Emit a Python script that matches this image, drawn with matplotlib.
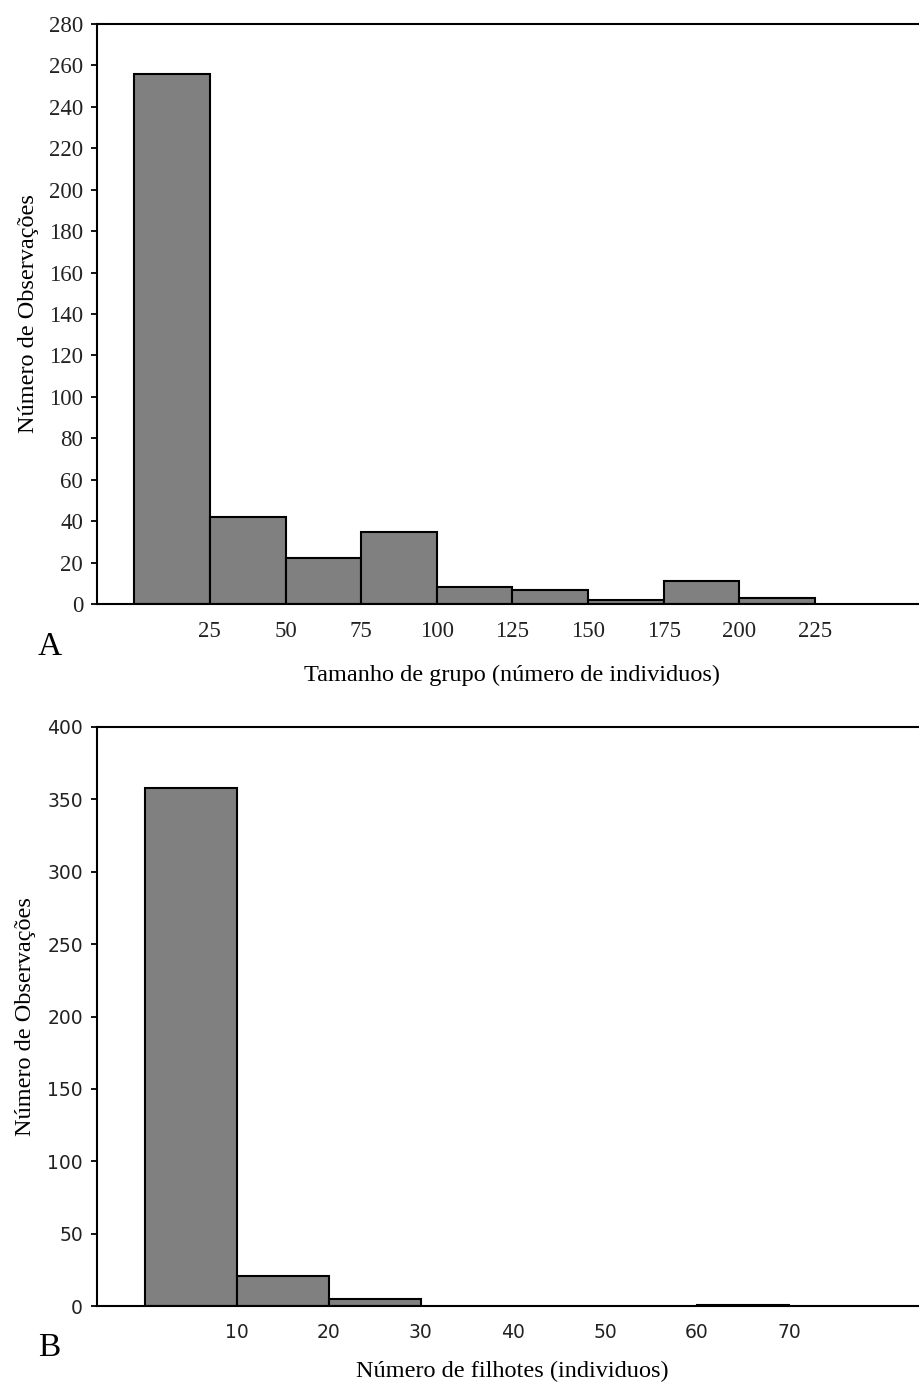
import matplotlib
matplotlib.use("Agg")
import matplotlib.pyplot as plt

# Painel A: tamanho de grupo
grupo_bins = [0, 25, 50, 75, 100, 125, 150, 175, 200]
grupo_counts = [256, 42, 22, 35, 8, 7, 2, 11, 3]
grupo_xticks = [25, 50, 75, 100, 125, 150, 175, 200, 225]
grupo_yticks = list(range(0, 281, 20))

# Painel B: número de filhotes
filhotes_bins = [0, 10, 20, 60]
filhotes_counts = [358, 21, 5, 1]
filhotes_xticks = [10, 20, 30, 40, 50, 60, 70]
filhotes_yticks = list(range(0, 401, 50))

SERIF = "Liberation Serif"
SANS = "DejaVu Sans"
BAR_COLOR = "#808080"

fig = plt.figure(figsize=(9.2, 13.87), dpi=100)


def style_axes(ax, tick_font, tick_size):
    for side in ["top", "right", "left", "bottom"]:
        ax.spines[side].set_linewidth(1.5)
    ax.tick_params(axis="x", length=0, pad=12)
    ax.tick_params(axis="y", length=4, width=1.3, direction="out", pad=6)
    for lab in ax.get_xticklabels() + ax.get_yticklabels():
        lab.set_fontfamily(tick_font)
        lab.set_fontsize(tick_size)
        lab.set_color("#222222")


# --- A ---
axA = fig.add_axes([97 / 920, 1 - 604 / 1387, 830 / 920, 580 / 1387])
axA.bar(grupo_bins, grupo_counts, width=25, align="edge",
        color=BAR_COLOR, edgecolor="black", linewidth=1.5)
axA.set_xlim(-12.3, 262)
axA.set_ylim(0, 280)
axA.set_xticks(grupo_xticks)
axA.set_yticks(grupo_yticks)
style_axes(axA, SERIF, 16.5)
axA.set_xlabel("Tamanho de grupo (número de individuos)", family=SERIF,
               fontsize=17.5, labelpad=17)
axA.set_ylabel("Número de Observações", family=SERIF, fontsize=17.5,
               labelpad=7)
fig.text(38 / 920, 1 - 647 / 1387, "A", family=SERIF, fontsize=24,
         va="center")

# --- B ---
axB = fig.add_axes([97 / 920, 1 - 1306 / 1387, 830 / 920, 579 / 1387])
axB.bar(filhotes_bins, filhotes_counts, width=10, align="edge",
        color=BAR_COLOR, edgecolor="black", linewidth=1.5)
axB.set_xlim(-5.2, 85)
axB.set_ylim(0, 400)
axB.set_xticks(filhotes_xticks)
axB.set_yticks(filhotes_yticks)
style_axes(axB, SANS, 13.5)
axB.set_xlabel("Número de filhotes (individuos)", family=SERIF,
               fontsize=17.5, labelpad=14)
axB.set_ylabel("Número de Observações", family=SERIF, fontsize=17.5,
               labelpad=8)
fig.text(38 / 920, 1 - 1348 / 1387, "B", family=SERIF, fontsize=24,
         va="center")

fig.savefig("out.png", dpi=100, facecolor="white")
